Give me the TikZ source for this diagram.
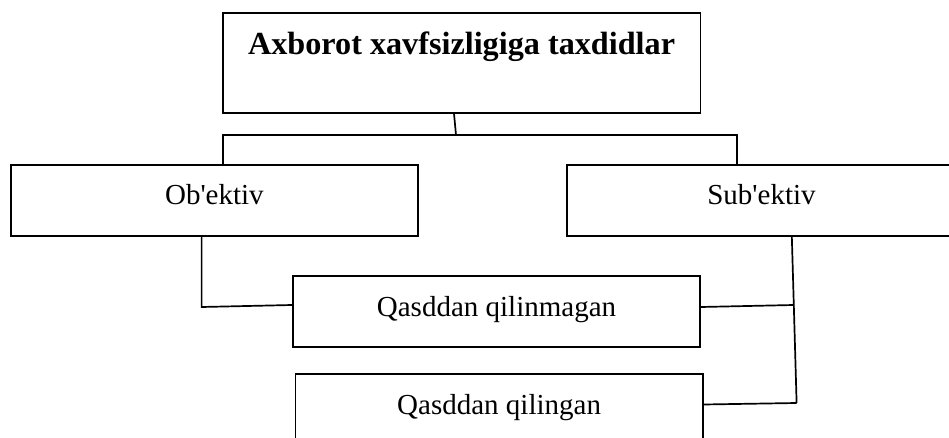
\documentclass[tikz,border=0pt]{standalone}
\usepackage{fontspec}
\setmainfont{Liberation Serif}
\usetikzlibrary{positioning}
\tikzset{
  every node/.style={font=\fontsize{29}{33}\selectfont, text=black},
  box/.style={draw=black, line width=1.8pt, inner sep=0pt, text height=20pt, text depth=11pt},
  titlebox/.style={box, font=\fontsize{32.2}{37}\selectfont\bfseries, text height=22pt, text depth=38pt},
  link/.style={draw=black, line width=1.7pt},
}
\begin{document}
\begin{tikzpicture}[x=1pt,y=-1pt]
  \useasboundingbox (0,0) rectangle (949,438);
  \clip (0,0) rectangle (949,438);
  % Boxes
  \node[titlebox, minimum width=477.6, minimum height=100] (threat) at (461.6,62.7) {Axborot xavfsizligiga taxdidlar};
  \node[box, minimum width=406.7, minimum height=71] (obj) at (214.4,200.5) {Ob\textquotesingle ektiv};
  \node[box, minimum width=389, minimum height=71] (subj) at (761.5,200.5) {Sub\textquotesingle ektiv};
  \node[box, minimum width=407, minimum height=71] (unint) at (496.5,311.5) {Qasddan qilinmagan};
  \node[box, minimum width=407.4, minimum height=71] (intent) at (499.1,409.5) {Qasddan qilingan};
  % Junction points
  \coordinate (split) at (456,135);
  \coordinate (busL) at (222.8,135);
  \coordinate (busR) at (737,135);
  \coordinate (elbowL) at (201.6,307);
  \coordinate (dropR) at (791.8,236);
  \coordinate (joinR) at (793.8,305);
  \coordinate (elbowR) at (796.6,403);
  % Connectors
  \draw[link] ([xshift=-7.6]threat.south) -- (split);
  \draw[link] (obj.north -| busL) -- (busL) -- (busR) -- (subj.north -| busR);
  \draw[link] (obj.south -| elbowL) -- (elbowL) -- ([yshift=6.5]unint.west);
  \draw[link] (dropR) -- (joinR) -- (elbowR);
  \draw[link] ([yshift=4.5]unint.east) -- (joinR);
  \draw[link] ([yshift=5]intent.east) -- (elbowR);
\end{tikzpicture}
\end{document}
